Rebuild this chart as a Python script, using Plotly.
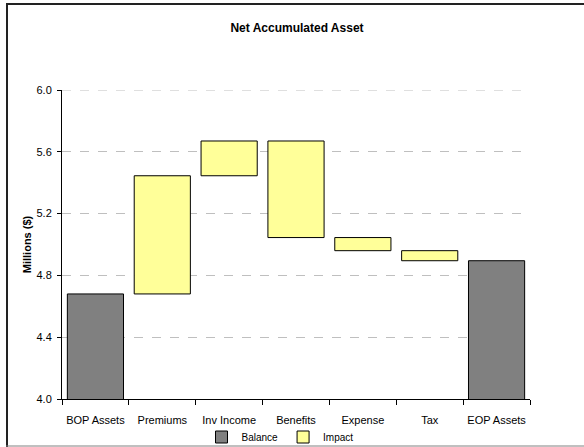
import plotly.graph_objects as go

categories = ["BOP Assets", "Premiums", "Inv Income", "Benefits", "Expense", "Tax", "EOP Assets"]
bop_assets = 4.68
impacts = [0.765, 0.225, -0.625, -0.085, -0.065]  # Premiums, Inv Income, Benefits, Expense, Tax
impact_cats = categories[1:6]
y_min, y_max = 4.0, 6.0

# cumulative running balance
running = [bop_assets]
for d in impacts:
    running.append(running[-1] + d)
eop_assets = running[-1]
impact_base = [min(running[i], running[i + 1]) for i in range(len(impacts))]
impact_height = [abs(d) for d in impacts]

W, H = 584, 447
L, R, T, B = 62, 54, 90, 48
pw, ph = W - L - R, H - T - B

def px(x):
    return (x - L) / pw

def py(y):
    return (H - B - y) / ph

fig = go.Figure()
fig.add_trace(go.Bar(
    name="Balance", x=[categories[0], categories[-1]], y=[bop_assets, eop_assets],
    marker=dict(color="#808080", line=dict(color="#000000", width=1)),
))
fig.add_trace(go.Bar(
    name="Impact", x=impact_cats, y=impact_height, base=impact_base,
    marker=dict(color="#FFFF99", line=dict(color="#000000", width=1)),
))

frame = [
    dict(type="line", xref="paper", yref="paper", x0=px(7), x1=px(7), y0=py(447), y1=py(3.5),
         line=dict(color="#222222", width=2)),
    dict(type="line", xref="paper", yref="paper", x0=px(6), x1=px(640), y0=py(4), y1=py(4),
         line=dict(color="#222222", width=2)),
    dict(type="line", xref="paper", yref="paper", x0=px(6), x1=px(640), y0=py(446), y1=py(446),
         line=dict(color="#808080", width=1)),
    # top gridline (plotly omits the gridline at the axis end)
    dict(type="line", xref="paper", yref="y", x0=0, x1=1, y0=y_max, y1=y_max,
         line=dict(color="#BFBFBF", width=1, dash="dash"), layer="below"),
]

fig.update_layout(
    width=W, height=H,
    margin=dict(l=L, r=R, t=T, b=B, autoexpand=False),
    paper_bgcolor="white", plot_bgcolor="white",
    barmode="overlay", bargap=0.16,
    font=dict(family="Liberation Sans, Arial", size=11, color="#000000"),
    title=dict(text="<b>Net Accumulated Asset</b>", x=px(300), xanchor="center",
               y=(H - 28) / H, yanchor="middle", font=dict(size=12)),
    legend=dict(orientation="h", x=px(280), xanchor="center", y=py(437), yanchor="middle",
                font=dict(size=10), bgcolor="rgba(0,0,0,0)", traceorder="normal",
                itemwidth=30, tracegroupgap=0),
    showlegend=True,
    shapes=frame,
)
fig.update_xaxes(
    categoryorder="array", categoryarray=categories,
    showline=True, linecolor="#000000", linewidth=1,
    ticks="outside", tickson="boundaries", ticklen=5, tickcolor="#000000",
    showgrid=False, tickfont=dict(size=11), tickangle=0, automargin=False,
    ticklabelstandoff=11,
)
fig.update_yaxes(
    range=[y_min, y_max], dtick=0.4, tick0=4.0, tickformat=".1f",
    showline=True, linecolor="#000000", linewidth=1,
    ticks="outside", ticklen=4, tickcolor="#000000",
    showgrid=True, gridcolor="#BFBFBF", griddash="dash", gridwidth=1,
    zeroline=False, tickfont=dict(size=11), automargin=False,
    ticklabelstandoff=3,
    title=dict(text="<b>Millions ($)</b>", font=dict(size=11), standoff=2),
)

fig.write_html("out.html", config={"displayModeBar": False},
               post_script="document.body.style.margin='0';document.body.style.overflow='hidden';")
